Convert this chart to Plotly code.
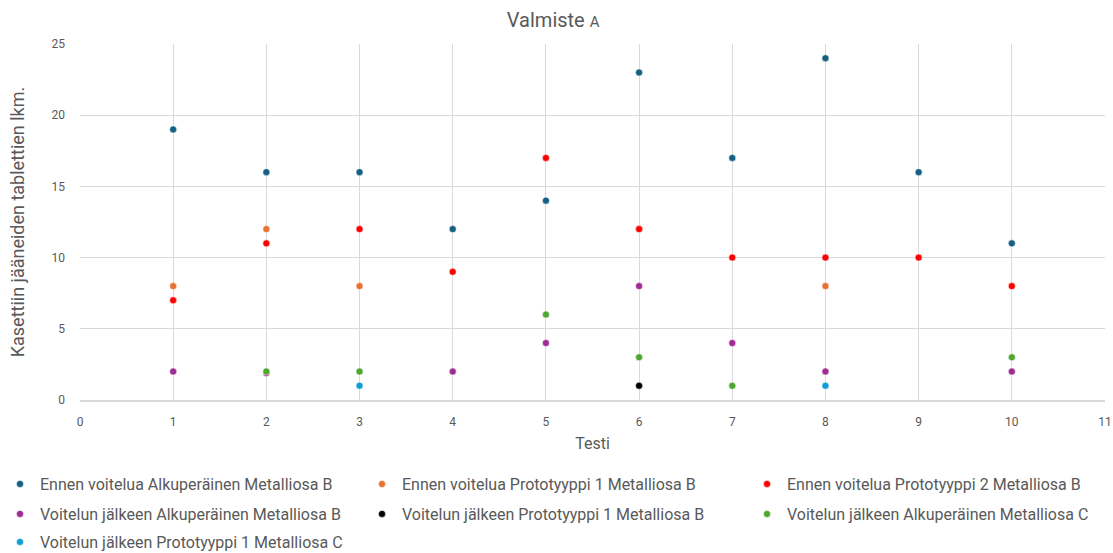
import plotly.graph_objects as go

series_names = [
    "Ennen voitelua Alkuperäinen Metalliosa B",
    "Ennen voitelua Prototyyppi 1 Metalliosa B",
    "Ennen voitelua Prototyyppi 2 Metalliosa B",
    "Voitelun jälkeen Alkuperäinen Metalliosa B",
    "Voitelun jälkeen Prototyyppi 1 Metalliosa B",
    "Voitelun jälkeen Alkuperäinen Metalliosa C",
    "Voitelun jälkeen Prototyyppi 1 Metalliosa C",
]
colors = ["#156082", "#E97132", "#FF0000", "#A02B93", "#000000", "#4EA72E", "#0F9ED5"]

ea_b_x = [1, 2, 3, 4, 5, 6, 7, 8, 9, 10]
ea_b_y = [19, 16, 16, 12, 14, 23, 17, 24, 16, 11]
ep1_b_x = [1, 2, 3, 6, 8]
ep1_b_y = [8, 12, 8, 12, 8]
ep2_b_x = [1, 2, 3, 4, 5, 6, 7, 8, 9, 10]
ep2_b_y = [7, 11, 12, 9, 17, 12, 10, 10, 10, 8]
va_b_x = [1, 2, 4, 5, 6, 7, 8, 10]
va_b_y = [2, 1.9, 2, 4, 8, 4, 2, 2]
vp1_b_x = [6]
vp1_b_y = [1]
va_c_x = [2, 3, 5, 6, 7, 10]
va_c_y = [2, 2, 6, 3, 1, 3]
vp1_c_x = [3, 8]
vp1_c_y = [1, 1]

xs = [ea_b_x, ep1_b_x, ep2_b_x, va_b_x, vp1_b_x, va_c_x, vp1_c_x]
ys = [ea_b_y, ep1_b_y, ep2_b_y, va_b_y, vp1_b_y, va_c_y, vp1_c_y]

FONT = "Roboto"
W, H = 1113, 553
L, R, T, B = 80, 8, 44, 153
PW = W - L - R

# legend slot positions (pixel left edge of legend box, pixel row center)
leg_cols = [-16, 362, 747]
leg_rows = [484, 514, 542]

fig = go.Figure()
legend_layout = {}
for i, (name, c, x, y) in enumerate(zip(series_names, colors, xs, ys)):
    key = "legend" if i == 0 else f"legend{i + 1}"
    fig.add_trace(go.Scatter(
        x=x, y=y, mode="markers", name=name, legend=key,
        marker=dict(color=c, size=7, line=dict(color="white", width=0.5)),
    ))
    col, row = i % 3, i // 3
    legend_layout[key] = dict(
        orientation="h", xref="paper", yref="container",
        x=(leg_cols[col] - L) / PW, y=1 - leg_rows[row] / H,
        xanchor="left", yanchor="middle",
        font=dict(size=16, color="#595959", family=FONT), itemsizing="trace",
        bgcolor="rgba(0,0,0,0)", itemwidth=30)

fig.update_layout(
    width=W, height=H,
    margin=dict(l=L, r=R, t=T, b=B),
    paper_bgcolor="white", plot_bgcolor="white",
    font=dict(family=FONT, color="#595959", size=13),
    title=dict(text="Valmiste <span style='font-size:15px'>A</span>", x=0.497, xanchor="center",
               y=1 - 20 / H, yanchor="middle", font=dict(size=20, color="#595959", family=FONT)),
    showlegend=True,
    **legend_layout,
)
fig.update_xaxes(range=[0, 11], dtick=1, tick0=0, showgrid=True, gridcolor="#D9D9D9", gridwidth=1,
                 zeroline=False, showline=True, linecolor="#D9D9D9", linewidth=1.5, ticks="",
                 automargin=False, ticklabelstandoff=10,
                 title=dict(text="Testi", font=dict(size=16, color="#595959"), standoff=10),
                 tickfont=dict(size=12, color="#595959"))
fig.update_yaxes(range=[0, 25], dtick=5, showgrid=True, gridcolor="#D9D9D9", gridwidth=1,
                 zeroline=False, showline=False, ticks="", automargin=False, ticklabelstandoff=14,
                 title=dict(text="Kasettiin jääneiden tablettien lkm.", font=dict(size=18, color="#595959"), standoff=22),
                 tickfont=dict(size=12, color="#595959"))
fig.write_html("out.html")
